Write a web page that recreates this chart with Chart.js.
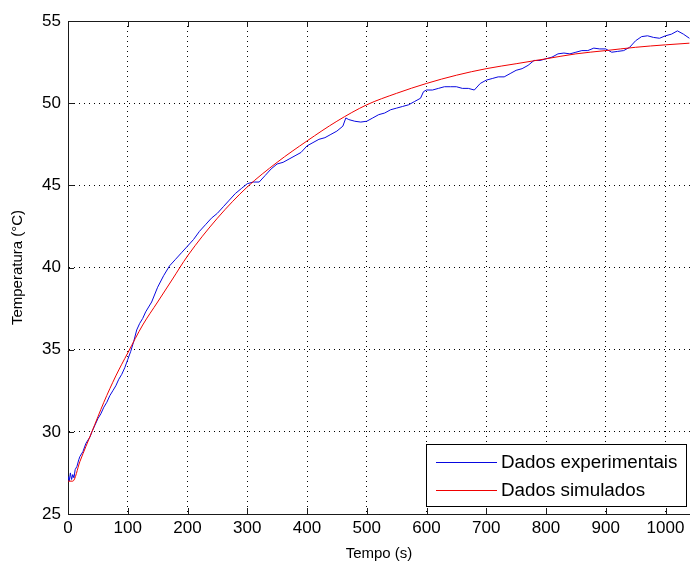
<!DOCTYPE html>
<html><head><meta charset="utf-8">
<script src="https://cdn.jsdelivr.net/npm/chart.js@4.4.0/dist/chart.umd.min.js"></script>
<style>html,body{margin:0;padding:0;background:#fff;overflow:hidden}#wrap{width:690px;height:568px}</style>
</head><body><div id="wrap"><canvas id="c" width="690" height="568"></canvas></div>
<script>
const expTime = [0,2,4,6,8,10,12,15,18,20,25,30,37,40,45,50,55,60,65,70,75,80,85,90,95,100,105,110,115,120,125,130,140,150,160,170,180,190,200,210,220,230,240,250,260,270,280,290,300,310,320,330,340,350,360,370,380,390,400,410,420,430,440,450,460,465,470,480,490,500,510,520,530,540,550,560,570,580,590,595,600,610,620,630,640,650,660,670,680,690,700,710,720,730,740,750,760,770,780,790,800,810,820,830,840,850,860,870,880,890,900,910,920,930,940,950,960,970,980,990,1000,1010,1020,1030,1040];
const expTemp = [27.3,27.0,27.5,27.1,27.4,27.2,27.7,27.9,28.3,28.5,28.8,29.3,29.7,30.0,30.4,30.8,31.1,31.5,31.8,32.2,32.5,32.8,33.2,33.5,33.9,34.4,34.9,35.5,36.2,36.6,36.9,37.3,37.9,38.8,39.5,40.1,40.5,40.9,41.3,41.7,42.2,42.6,43.0,43.3,43.7,44.1,44.5,44.8,45.1,45.2,45.2,45.6,46.0,46.3,46.4,46.6,46.8,47.0,47.4,47.6,47.8,47.9,48.1,48.3,48.6,49.1,49.0,48.9,48.85,48.9,49.1,49.3,49.4,49.6,49.7,49.8,49.9,50.1,50.3,50.7,50.8,50.8,50.9,51.0,51.0,51.0,50.9,50.9,50.8,51.2,51.4,51.5,51.6,51.6,51.8,52.0,52.1,52.3,52.6,52.6,52.7,52.8,53.0,53.05,53.0,53.1,53.2,53.2,53.35,53.3,53.3,53.1,53.15,53.2,53.4,53.8,54.05,54.1,54.0,53.95,54.1,54.2,54.4,54.2,53.95];
const simTime = [0,8,20,40,60,80,100,125,150,175,200,250,300,350,400,450,500,550,600,650,700,750,800,850,900,950,1000,1040];
const simTemp = [27.0,27.0,28.2,30.0,31.8,33.4,34.8,36.5,37.9,39.3,40.7,43.0,44.9,46.4,47.7,48.9,49.9,50.6,51.2,51.7,52.1,52.4,52.7,53.0,53.2,53.4,53.55,53.65];
const xTicks = [0,100,200,300,400,500,600,700,800,900,1000];
const yTicks = [25,30,35,40,45,50,55];
const seriesLabels = ['Dados experimentais','Dados simulados'];
const seriesColors = ['#0808e0','#f00000'];
const xTitle = 'Tempo (s)';
const yTitle = 'Temperatura (°C)';

const FONT = '"Liberation Sans", Arial, sans-serif';

const framePlugin = {
  id: 'frame',
  afterDraw(chart) {
    const {ctx, chartArea: a, scales: {x, y}} = chart;
    ctx.save();
    ctx.strokeStyle = '#1a1a1a';
    ctx.lineWidth = 1;
    ctx.beginPath();
    ctx.moveTo(a.left, a.top + 0.5); ctx.lineTo(a.right, a.top + 0.5);
    xTicks.forEach(v => {
      const px = Math.round(x.getPixelForValue(v)) + 0.5;
      ctx.moveTo(px, a.bottom); ctx.lineTo(px, a.bottom - 6);
      ctx.moveTo(px, a.top); ctx.lineTo(px, a.top + 6);
    });
    yTicks.forEach(v => {
      const py = Math.round(y.getPixelForValue(v)) + 0.5;
      ctx.moveTo(a.left, py); ctx.lineTo(a.left + 6, py);
    });
    ctx.stroke();
    // legend box
    const bx = 426.5, by = 444.5, bw = 260, bh = 62;
    ctx.fillStyle = '#fff';
    ctx.fillRect(bx, by, bw, bh);
    ctx.strokeStyle = '#000';
    ctx.strokeRect(bx, by, bw, bh);
    ctx.font = '18.8px ' + FONT;
    ctx.textBaseline = 'middle';
    ctx.textAlign = 'left';
    seriesLabels.forEach((lab, i) => {
      const ly = by + 17.5 + i * 28;
      ctx.strokeStyle = seriesColors[i];
      ctx.beginPath(); ctx.moveTo(436, Math.round(ly) + 0.5); ctx.lineTo(497, Math.round(ly) + 0.5); ctx.stroke();
      ctx.fillStyle = '#000';
      ctx.fillText(lab, 501, ly + 1);
    });
    ctx.restore();
  }
};

new Chart(document.getElementById('c'), {
  type: 'line',
  data: {
    datasets: [
      { label: seriesLabels[0], data: expTime.map((t, i) => ({x: t, y: expTemp[i]})), borderColor: seriesColors[0], borderWidth: 1, pointRadius: 0, tension: 0, order: 1 },
      { label: seriesLabels[1], data: simTime.map((t, i) => ({x: t, y: simTemp[i]})), borderColor: seriesColors[1], borderWidth: 1, pointRadius: 0, cubicInterpolationMode: 'monotone', order: 0 }
    ]
  },
  options: {
    responsive: false, animation: false, devicePixelRatio: 1,
    layout: { padding: { left: 0, right: 0, top: 21, bottom: 0 } },
    plugins: { legend: { display: false }, tooltip: { enabled: false } },
    scales: {
      x: {
        type: 'linear', min: 0, max: 1041,
        afterBuildTicks: s => { s.ticks = xTicks.map(v => ({value: v})); },
        afterFit: s => { s.height = 54; },
        ticks: { font: { size: 17, family: FONT }, color: '#000', padding: 4, maxRotation: 0, autoSkip: false, callback: v => String(v) },
        grid: { color: '#000', lineWidth: 1, drawTicks: false },
        border: { display: true, color: '#1a1a1a', width: 1, dash: [1, 4] },
        title: { display: true, text: xTitle, font: { size: 15, family: FONT }, color: '#000', padding: { top: 0, bottom: 5 } }
      },
      y: {
        type: 'linear', min: 25, max: 55,
        afterBuildTicks: s => { s.ticks = yTicks.map(v => ({value: v})); },
        afterFit: s => { s.width = 68; },
        ticks: { font: { size: 17, family: FONT }, color: '#000', padding: 7, autoSkip: false, callback: v => String(v) },
        grid: { color: '#000', lineWidth: 1, drawTicks: false },
        border: { display: true, color: '#1a1a1a', width: 1, dash: [1, 4] },
        title: { display: true, text: yTitle, font: { size: 15, family: FONT }, color: '#000', padding: { top: 9, bottom: 0 } }
      }
    }
  },
  plugins: [framePlugin]
});
</script></body></html>
